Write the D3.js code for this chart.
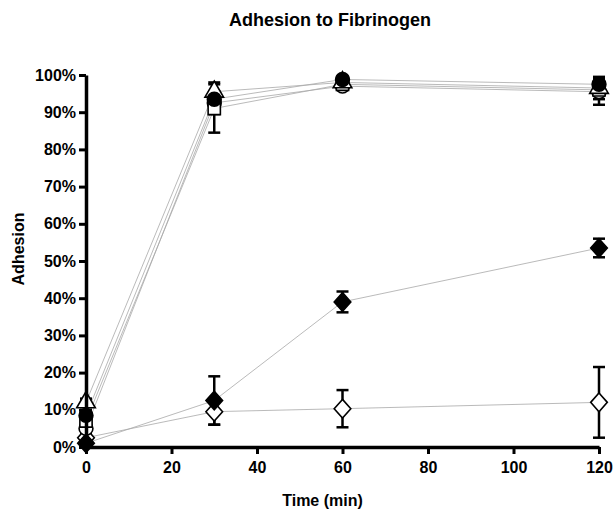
<!DOCTYPE html>
<html>
<head>
<meta charset="utf-8">
<script src="https://cdn.jsdelivr.net/npm/d3@7"></script>
<style>
  body { margin: 0; background: #fff; }
  text { font-family: Arial, 'Liberation Sans', sans-serif; font-weight: bold; }
</style>
</head>
<body>
<div id="chart"></div>
<script>
// time points (min)
const times = [0, 30, 60, 120]
const xTicks = [0, 20, 40, 60, 80, 100, 120]
const yTicks = [0, 10, 20, 30, 40, 50, 60, 70, 80, 90, 100]

// adhesion (%) and error (SD) per series
const filledCircle = [8.5, 93.5, 98.8, 97.5]
const filledCircleErr = [1.5, 2, 0.8, 2]
const openSquare = [7, 91, 97.5, 96]
const openSquareErr = [2, 6.5, 1, 2.5]
const openTriangle = [12, 95.5, 98, 96.5]
const openTriangleErr = [1, 2.5, 1, 2]
const openCircle = [5, 92.5, 97, 95.5]
const openCircleErr = [1.5, 3, 1, 3.5]
const filledDiamond = [1, 12.5, 39, 53.5]
const filledDiamondErr = [1, 6.5, 2.8, 2.5]
const openDiamond = [2.5, 9.5, 10.3, 12]
const openDiamondErr = [1, 3.5, 5, 9.5]

const diamond = {
  draw(ctx, size) {
    const w = Math.sqrt(size) * 0.62, h = w * 1.12
    ctx.moveTo(0, -h); ctx.lineTo(w, 0); ctx.lineTo(0, h); ctx.lineTo(-w, 0); ctx.closePath()
  },
}

const series = [
  {values: openDiamond, err: openDiamondErr, type: diamond, size: 180, fill: '#fff'},
  {values: filledDiamond, err: filledDiamondErr, type: diamond, size: 180, fill: '#000'},
  {values: openCircle, err: openCircleErr, type: d3.symbolCircle, size: 150, fill: '#fff'},
  {values: openSquare, err: openSquareErr, type: d3.symbolSquare, size: 150, fill: '#fff'},
  {values: openTriangle, err: openTriangleErr, type: d3.symbolTriangle, size: 150, fill: '#fff'},
  {values: filledCircle, err: filledCircleErr, type: d3.symbolCircle, size: 150, fill: '#000'},
]

const canvasWidth = 616
const canvasHeight = 515
const margins = {top: 75, right: 17, bottom: 68, left: 86}
const width = canvasWidth - margins.left - margins.right
const height = canvasHeight - margins.top - margins.bottom

const xScale = d3.scaleLinear().domain([0, 120]).range([0, width])
const yScale = d3.scaleLinear().domain([0, 100]).range([height, 0])

const root = d3.select('#chart').append('svg')
  .attr('width', canvasWidth)
  .attr('height', canvasHeight)

root.append('text')
  .attr('x', 330)
  .attr('y', 26)
  .attr('font-size', '18px')
  .style('text-anchor', 'middle')
  .text('Adhesion to Fibrinogen')

const svg = root.append('g')
  .attr('transform', `translate(${margins.left}, ${margins.top})`)

// lines
const line = d3.line()
  .x((d, i) => xScale(times[i]))
  .y(d => yScale(d))

series.forEach(s => {
  svg.append('path')
    .datum(s.values)
    .attr('d', line)
    .attr('fill', 'none')
    .attr('stroke', '#a8a8a8')
    .attr('stroke-width', 0.8)
})

// error bars
series.forEach(s => {
  const g = svg.append('g').attr('stroke', '#000').attr('stroke-width', 2.5)
  s.values.forEach((v, i) => {
    const x = xScale(times[i])
    const y0 = yScale(Math.max(0, v - s.err[i]))
    const y1 = yScale(v + s.err[i])
    g.append('line').attr('x1', x).attr('x2', x).attr('y1', y0).attr('y2', y1)
    g.append('line').attr('x1', x - 6).attr('x2', x + 6).attr('y1', y0).attr('y2', y0)
    g.append('line').attr('x1', x - 6).attr('x2', x + 6).attr('y1', y1).attr('y2', y1)
  })
})

// markers
series.forEach(s => {
  svg.selectAll(null)
    .data(s.values)
    .enter()
    .append('path')
    .attr('transform', (d, i) => `translate(${xScale(times[i])}, ${yScale(d)})`)
    .attr('d', d3.symbol().type(s.type).size(s.size))
    .attr('fill', s.fill)
    .attr('stroke', '#000')
    .attr('stroke-width', 1.6)
})

// axes
const xAxis = svg.append('g')
  .attr('transform', `translate(0, ${height})`)
  .call(d3.axisBottom(xScale).tickValues(xTicks).tickSize(7).tickPadding(8).tickSizeOuter(0))
const yAxis = svg.append('g')
  .call(d3.axisLeft(yScale).tickValues(yTicks).tickSize(7).tickPadding(3).tickSizeOuter(0)
    .tickFormat(d => d + '%'))

;[xAxis, yAxis].forEach(a => {
  a.select('.domain').attr('stroke-width', 3.5)
  a.selectAll('.tick line').attr('stroke-width', 3)
  a.selectAll('.tick text').attr('font-size', '16px').attr('fill', '#000')
    .style('font-family', 'Arial, Liberation Sans, sans-serif').style('font-weight', 'bold')
})

svg.append('text')
  .attr('transform', `translate(${width / 2 - 20}, ${height + 59})`)
  .attr('font-size', '16px')
  .style('text-anchor', 'middle')
  .text('Time (min)')

svg.append('text')
  .attr('transform', `translate(-62, ${height / 2 - 12}) rotate(-90)`)
  .attr('font-size', '16px')
  .style('text-anchor', 'middle')
  .text('Adhesion')
</script>
</body>
</html>
